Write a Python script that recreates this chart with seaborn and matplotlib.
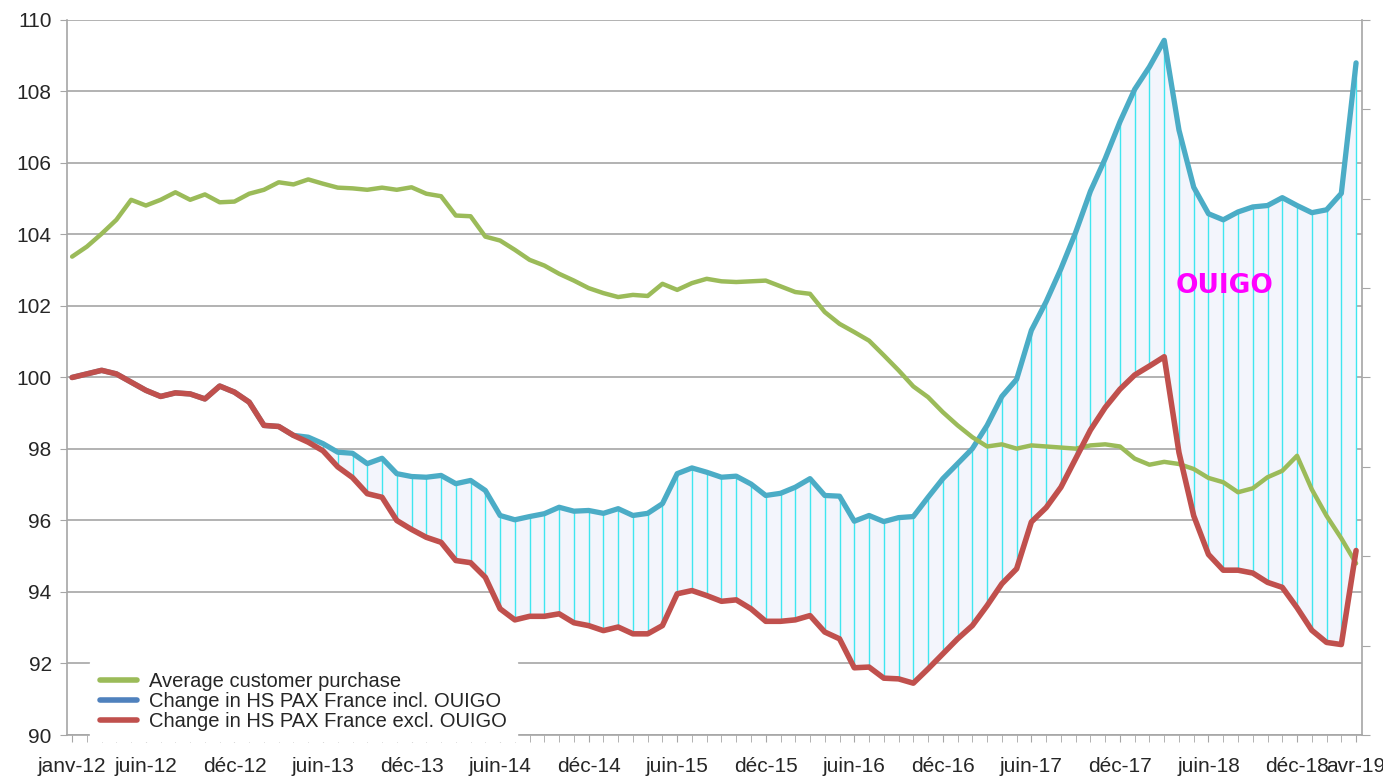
import numpy as np
import pandas as pd
import matplotlib
matplotlib.use("Agg")
import matplotlib.pyplot as plt
from matplotlib.lines import Line2D
import seaborn as sns

# monthly series, janv-12 .. avr-19
months = pd.date_range("2012-01-01", "2019-04-01", freq="MS")

average_purchase = [
    103.38, 103.66, 104.02, 104.41, 104.97, 104.81, 104.97, 105.18, 104.97, 105.12, 104.90, 104.92,
    105.14, 105.25, 105.46, 105.40, 105.54, 105.42, 105.31, 105.29, 105.25, 105.31, 105.25, 105.32,
    105.14, 105.07, 104.53, 104.51, 103.94, 103.83, 103.57, 103.29, 103.13, 102.90, 102.71, 102.50,
    102.36, 102.25, 102.31, 102.28, 102.62, 102.45, 102.64, 102.76, 102.69, 102.67, 102.69, 102.71,
    102.55, 102.39, 102.34, 101.83, 101.50, 101.27, 101.03, 100.62, 100.20, 99.75, 99.45, 99.03,
    98.66, 98.33, 98.07, 98.13, 98.01, 98.10, 98.07, 98.04, 98.01, 98.10, 98.13, 98.07,
    97.73, 97.56, 97.64, 97.58, 97.44, 97.19, 97.07, 96.79, 96.90, 97.21, 97.39, 97.81,
    96.87, 96.13, 95.50, 94.80,
]

pax_excl_ouigo = [
    100.00, 100.10, 100.20, 100.10, 99.87, 99.64, 99.47, 99.57, 99.54, 99.40, 99.76, 99.59,
    99.31, 98.66, 98.63, 98.38, 98.19, 97.95, 97.50, 97.20, 96.75, 96.65, 96.00, 95.75,
    95.53, 95.39, 94.88, 94.82, 94.41, 93.53, 93.22, 93.32, 93.32, 93.39, 93.14, 93.06,
    92.92, 93.02, 92.83, 92.83, 93.06, 93.95, 94.04, 93.90, 93.74, 93.78, 93.53, 93.18,
    93.18, 93.22, 93.34, 92.88, 92.69, 91.88, 91.90, 91.59, 91.57, 91.45, 91.85, 92.27,
    92.69, 93.06, 93.62, 94.23, 94.65, 95.96, 96.36, 96.93, 97.73, 98.53, 99.16, 99.67,
    100.07, 100.32, 100.58, 97.90, 96.13, 95.05, 94.61, 94.61, 94.53, 94.27, 94.13, 93.56,
    92.93, 92.59, 92.53, 95.16,
]

pax_incl_ouigo = [
    100.00, 100.10, 100.20, 100.10, 99.87, 99.64, 99.47, 99.57, 99.54, 99.40, 99.76, 99.59,
    99.31, 98.66, 98.63, 98.38, 98.33, 98.15, 97.91, 97.88, 97.59, 97.74, 97.31, 97.23,
    97.21, 97.26, 97.03, 97.12, 96.84, 96.14, 96.02, 96.11, 96.19, 96.37, 96.26, 96.28,
    96.20, 96.33, 96.14, 96.20, 96.47, 97.31, 97.47, 97.35, 97.21, 97.24, 97.02, 96.70,
    96.76, 96.93, 97.17, 96.70, 96.68, 95.98, 96.14, 95.97, 96.08, 96.11, 96.65, 97.17,
    97.59, 98.01, 98.66, 99.47, 99.95, 101.32, 102.12, 103.04, 104.06, 105.21, 106.12, 107.15,
    108.06, 108.69, 109.43, 106.92, 105.32, 104.58, 104.41, 104.63, 104.77, 104.81, 105.03, 104.81,
    104.61, 104.69, 105.15, 108.80,
]

tick_pos = [0, 5, 11, 17, 23, 29, 35, 41, 47, 53, 59, 65, 71, 77, 83, 87]
tick_labels = ["janv-12", "juin-12", "déc-12", "juin-13", "déc-13", "juin-14", "déc-14",
               "juin-15", "déc-15", "juin-16", "déc-16", "juin-17", "déc-17", "juin-18",
               "déc-18", "avr-19"]

legend_labels = ["Average customer purchase",
                 "Change in HS PAX France incl. OUIGO",
                 "Change in HS PAX France excl. OUIGO"]

sns.set_style("white")
plt.rcParams["font.family"] = ["Liberation Sans", "DejaVu Sans"]

idx = np.arange(len(months))
df = pd.DataFrame({"m": idx, "green": average_purchase,
                   "blue": pax_incl_ouigo, "red": pax_excl_ouigo})

fig = plt.figure(figsize=(13.83, 7.83), dpi=100)
ax = fig.add_axes([0.0484, 0.0613, 0.9364, 0.9132])

grey = "#a6a6a6"

# gap between the two PAX lines
ax.fill_between(df["m"], df["red"], df["blue"], color="#f3f5fc", lw=0, zorder=1)
ax.vlines(df["m"], df["red"], df["blue"], color="#3fe6f0", lw=1, zorder=2)

sns.lineplot(data=df, x="m", y="green", color="#9bbb59", lw=3.2, ax=ax, zorder=4)
sns.lineplot(data=df, x="m", y="blue", color="#4bacc6", lw=3.8, ax=ax, zorder=3)
sns.lineplot(data=df, x="m", y="red", color="#c0504d", lw=4.0, ax=ax, zorder=5)

ax.set_xlim(-0.35, 87.4)
ax.set_ylim(90, 110)
ax.set_yticks(np.arange(90, 111, 2))
ax.set_xticks(tick_pos)
ax.set_xticklabels(tick_labels)
ax.set_xticks(idx, minor=True)
ax.set_xlabel("")
ax.set_ylabel("")
ax.yaxis.grid(True, color=grey, lw=1.2)
ax.set_axisbelow(True)

ax.tick_params(axis="x", which="both", length=5, color=grey, direction="out",
               labelsize=15, pad=11, bottom=True)
ax.tick_params(axis="y", length=5, color=grey, labelsize=15, pad=6, left=True)

for s in ["left", "bottom"]:
    ax.spines[s].set_color(grey)
    ax.spines[s].set_linewidth(1.2)
ax.spines["top"].set_visible(False)
ax.spines["right"].set_visible(False)

ax.text(78.1, 102.55, "OUIGO", color="#ff00ff", fontsize=19, fontweight="bold",
        family="DejaVu Sans", ha="center", va="center", zorder=6)

# empty secondary axis on the right
ax2 = ax.twinx()
ax2.set_ylim(0, 8)
ax2.set_yticks(range(9))
ax2.set_yticklabels([""] * 9)
ax2.tick_params(axis="y", length=6, color=grey, right=True)
for s in ["left", "top", "bottom"]:
    ax2.spines[s].set_visible(False)
ax2.spines["right"].set_color(grey)
ax2.spines["right"].set_linewidth(1.2)

handles = [Line2D([], [], color="#9bbb59", lw=4),
           Line2D([], [], color="#4f81bd", lw=4),
           Line2D([], [], color="#c0504d", lw=4)]
leg = ax2.legend(handles, legend_labels, loc="lower left", bbox_to_anchor=(0.018, -0.008),
                 frameon=True, fancybox=False, framealpha=1, edgecolor="white",
                 facecolor="white", fontsize=14.5, handlelength=1.8, handletextpad=0.6,
                 labelspacing=0.05, borderpad=0.5, borderaxespad=0)
leg.set_zorder(10)

fig.savefig("out.png", dpi=100)
